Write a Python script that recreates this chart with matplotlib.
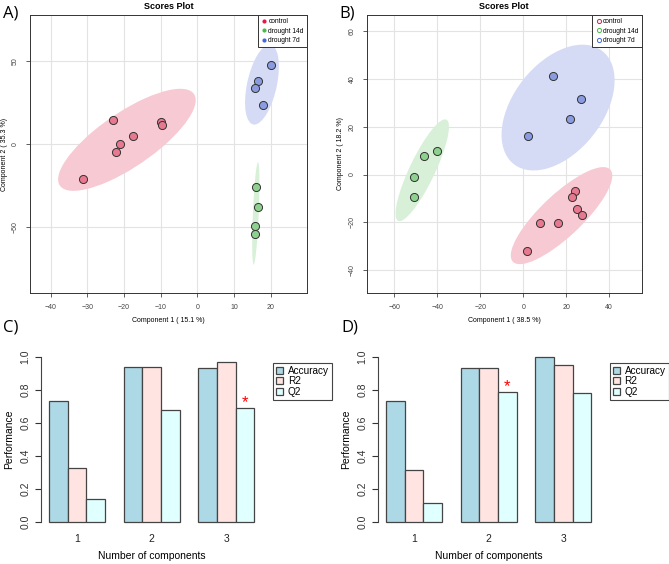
import numpy as np
import matplotlib
matplotlib.use("Agg")
import matplotlib.pyplot as plt
from matplotlib.patches import Ellipse
from matplotlib.lines import Line2D

plt.rcParams['font.family'] = ['Liberation Sans', 'DejaVu Sans']

# ---- scores plot data ----
groups = ['control', 'drought 14d', 'drought 7d']

a_x = {'control': [-23.1, -31.1, -21.1, -22.1, -17.5, -9.9, -9.5],
       'drought 14d': [16.0, 16.5, 15.7, 15.6],
       'drought 7d': [20.1, 16.6, 15.8, 18.0]}
a_y = {'control': [14.4, -20.8, 0.4, -4.8, 4.8, 13.2, 11.6],
       'drought 14d': [-25.7, -37.7, -49.3, -53.7],
       'drought 7d': [47.5, 38.3, 34.1, 23.8]}

b_x = {'control': [24.2, 22.7, 25.0, 27.3, 7.8, 16.0, 2.0],
       'drought 14d': [-50.9, -50.9, -46.1, -40.2],
       'drought 7d': [14.1, 27.0, 21.7, 2.2]}
b_y = {'control': [-6.9, -9.3, -14.6, -17.1, -20.4, -20.4, -32.0],
       'drought 14d': [-1.0, -9.3, 7.7, 9.7],
       'drought 7d': [41.2, 31.6, 23.3, 16.2]}

# ---- performance data ----
n_comp = ['1', '2', '3']
measures = ['Accuracy', 'R2', 'Q2']
c_vals = {'Accuracy': [0.734, 0.936, 0.934],
          'R2': [0.326, 0.936, 0.970],
          'Q2': [0.141, 0.678, 0.688]}
d_vals = {'Accuracy': [0.732, 0.934, 1.0],
          'R2': [0.314, 0.934, 0.950],
          'Q2': [0.117, 0.787, 0.783]}

pt_col = {'control': '#e8788f', 'drought 14d': '#8ed18e', 'drought 7d': '#8a9be0'}
ell_col = {'control': '#f7c9d3', 'drought 14d': '#d7f0d7', 'drought 7d': '#d5dbf5'}
leg_col = {'control': '#e8174b', 'drought 14d': '#4cb84c', 'drought 7d': '#4466dd'}
bar_col = {'Accuracy': '#add8e6', 'R2': '#ffe4e1', 'Q2': '#e0ffff'}

W, H = 669, 564
fig = plt.figure(figsize=(W / 100, H / 100), dpi=100)


def box(x0, y0, x1, y1):
    return [x0 / W, 1 - y1 / H, (x1 - x0) / W, (y1 - y0) / H]


def conf_ellipse(ax, x, y, color):
    x = np.asarray(x); y = np.asarray(y)
    cov = np.cov(x, y)
    vals, vecs = np.linalg.eigh(cov)
    ang = np.degrees(np.arctan2(vecs[1, 1], vecs[0, 1]))
    k = np.sqrt(5.991)
    e = Ellipse((x.mean(), y.mean()), 2 * k * np.sqrt(vals[1]), 2 * k * np.sqrt(vals[0]),
                angle=ang, facecolor=color, edgecolor='none', zorder=1)
    ax.add_patch(e)


def scores(px, xs, ys, xlim, ylim, xticks, yticks, xlab, ylab, open_leg, ylab_x):
    x0, y0, x1, y1 = px
    ax = fig.add_axes(box(x0, y0, x1, y1))
    for g in groups:
        conf_ellipse(ax, xs[g], ys[g], ell_col[g])
    for g in groups:
        ax.scatter(xs[g], ys[g], s=34, c=pt_col[g], edgecolors='#333333',
                   linewidths=0.7, zorder=3)
    ax.set_xlim(xlim); ax.set_ylim(ylim)
    ax.set_xticks(xticks); ax.set_yticks(yticks)
    ax.grid(True, color='#e3e3e3', linewidth=0.8, zorder=0)
    ax.set_axisbelow(True)
    ax.tick_params(labelsize=5, length=3, width=0.6, colors='#444444', pad=5)
    for t in ax.get_yticklabels():
        t.set_rotation(90); t.set_va('center')
    for s in ax.spines.values():
        s.set_linewidth(0.7); s.set_color('#333333')
    ax.set_xlabel(xlab, fontsize=5)
    ax.set_ylabel(ylab, fontsize=5)
    ax.xaxis.set_label_coords(0.5, -(317 - y1) / (y1 - y0))
    ax.yaxis.set_label_coords(-(x0 - ylab_x) / (x1 - x0), 0.5)
    ax.set_title('Scores Plot', fontsize=6.5, fontweight='bold', pad=4)
    handles = []
    for g in groups:
        if open_leg:
            handles.append(Line2D([], [], marker='o', ls='', ms=3, mfc='none',
                                  mec=leg_col[g], mew=0.7, label=g))
        else:
            handles.append(Line2D([], [], marker='o', ls='', ms=3, mfc=leg_col[g],
                                  mec='none', label=g))
    leg = ax.legend(handles=handles, loc='upper right', fontsize=4.8, borderaxespad=0,
                    fancybox=False, framealpha=1, edgecolor='#333333',
                    handletextpad=0.2, handlelength=0.9, borderpad=0.5, labelspacing=0.35)
    leg.get_frame().set_linewidth(0.7)
    return ax


scores((30, 15, 307, 293), a_x, a_y, (-45.6, 29.9), (-89.5, 77.8),
       range(-40, 30, 10), [-50, 0, 50], 'Component 1 ( 15.1 %)',
       'Component 2 ( 35.3 %)', False, 8.5)
scores((366.7, 15, 641.7, 293), b_x, b_y, (-72.9, 55.2), (-49.7, 66.9),
       range(-60, 50, 20), range(-40, 70, 20), 'Component 1 ( 38.5 %)',
       'Component 2 ( 18.2 %)', True, 344.5)


def perf(x0, vals, leg_x):
    bar_w = 18.67
    x1 = x0 + (12.44 - 0.56) * bar_w
    y1v, y0v = 356.7, 522.3
    per = y0v - y1v
    top, bot = y1v - 0.04 * per, y0v + 0.04 * per
    ax = fig.add_axes(box(x0, top, x1, bot))
    for j, m in enumerate(measures):
        lefts = [1 + 4 * g + j for g in range(len(n_comp))]
        ax.bar(lefts, vals[m], width=1, align='edge', color=bar_col[m],
               edgecolor='#444444', linewidth=0.9, label=m)
    best = int(np.argmax(vals['Q2']))
    ax.text(1 + 4 * best + 2.5, vals['Q2'][best] - 0.012, '*', color='red',
            fontsize=12, ha='center', va='bottom')
    ax.set_xlim(0.56, 12.44)
    ax.set_ylim(-0.04, 1.04)
    ax.set_xticks([1 + 4 * g + 1.5 for g in range(len(n_comp))])
    ax.set_xticklabels(n_comp)
    ax.tick_params(axis='x', length=0, labelsize=7.5, pad=3.5, colors='#222222')
    ax.set_yticks([0, 0.2, 0.4, 0.6, 0.8, 1.0])
    ax.set_yticklabels(['0.0', '0.2', '0.4', '0.6', '0.8', '1.0'])
    ax.tick_params(axis='y', length=4.5, width=0.8, labelsize=7.5, pad=3,
                   colors='#333333')
    for t in ax.get_yticklabels():
        t.set_rotation(90); t.set_va('center')
    for s in ['top', 'right', 'bottom']:
        ax.spines[s].set_visible(False)
    ax.spines['left'].set_bounds(0, 1)
    ax.spines['left'].set_color('#444444')
    ax.spines['left'].set_linewidth(0.8)
    ax.set_ylabel('Performance', fontsize=7.5)
    ax.set_xlabel('Number of components', fontsize=7.5)
    ax.yaxis.set_label_coords(-27 / (x1 - x0), 0.5)
    ax.xaxis.set_label_coords(0.5, -(551 - bot) / (bot - top))
    leg = ax.legend(loc='upper left', bbox_to_anchor=(leg_x / W, 1 - 362.7 / H),
                    bbox_transform=fig.transFigure, fontsize=7.2, fancybox=False,
                    framealpha=1, edgecolor='#444444', borderaxespad=0,
                    handlelength=0.7, handleheight=0.7, handletextpad=0.5,
                    labelspacing=0.05, borderpad=0.3)
    leg.get_frame().set_linewidth(0.8)
    return ax


perf(40.7, c_vals, 272.7)
perf(377.7, d_vals, 609.5)

for lab, x, y in [('A)', 3, 13), ('B)', 339, 13), ('C)', 3, 327), ('D)', 341, 327)]:
    fig.text(x / W, 1 - y / H, lab, fontsize=12, family='Open Sans', va='center')

fig.savefig('out.png', dpi=100)
